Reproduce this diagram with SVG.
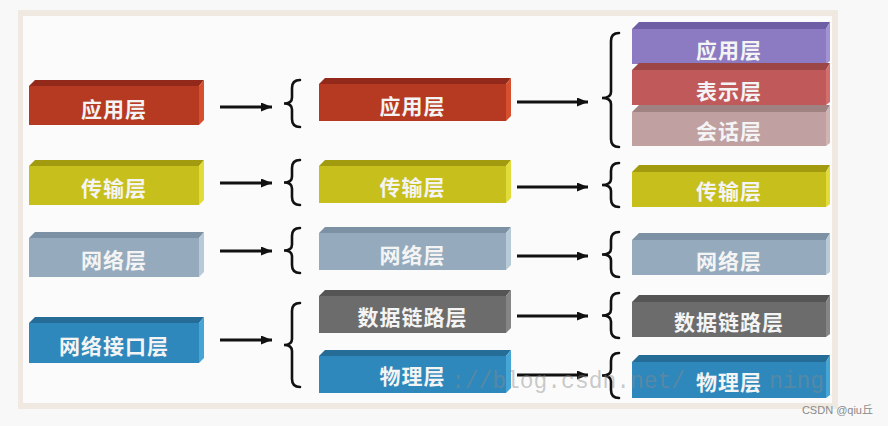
<svg xmlns="http://www.w3.org/2000/svg" width="888" height="426" viewBox="0 0 888 426">
<defs>
<style>
.lbl{font-family:"Noto Sans CJK SC","Noto Sans",sans-serif;font-weight:bold;font-size:21px;fill:#f4f4f4;text-anchor:middle;letter-spacing:1px}
.wm{font-family:"Liberation Mono",monospace;font-size:24px;fill:#8a8a8a;fill-opacity:0.45}
.arr{stroke:#111;stroke-width:3;fill:none}
.brace{stroke:#111;stroke-width:2.6;fill:none;stroke-linecap:round}
.red .fr{fill:#b63a22}.red .tp{fill:#92291a}.red .sd{fill:#d6502f}
.yel .fr{fill:#c6bf1c}.yel .tp{fill:#a29b10}.yel .sd{fill:#e2dc3a}
.net .fr{fill:#95abbd}.net .tp{fill:#7c91a3}.net .sd{fill:#b8cad8}
.blu .fr{fill:#2f88bb}.blu .tp{fill:#256d97}.blu .sd{fill:#45a6d6}
.gry .fr{fill:#6c6c6c}.gry .tp{fill:#555}.gry .sd{fill:#858585}
.pur .fr{fill:#8c7bc2}.pur .tp{fill:#6d5ea6}.pur .sd{fill:#a392d4}
.pre .fr{fill:#c05a5a}.pre .tp{fill:#9c4646}.pre .sd{fill:#d26e6e}
.ses .fr{fill:#c0a0a0}.ses .tp{fill:#a08282}.ses .sd{fill:#d0b4b4}
</style>
<marker id="ah" markerWidth="11" markerHeight="9" refX="11" refY="4.5" orient="auto" markerUnits="userSpaceOnUse">
<path d="M0,0 L11,4.5 L0,9 z" fill="#111"/>
</marker>
</defs>
<rect x="0" y="0" width="888" height="426" fill="#f8f8f8"/>
<rect x="18" y="10" width="820" height="399" fill="#efe9e1"/>
<rect x="23" y="16" width="809" height="387" fill="#fbfbfb"/>

<!-- left column -->
<g id="l-app" class="red">
<polygon class="tp" points="29,86 35,80 204,80 199,86"/>
<polygon class="sd" points="199,86 204,80 204,120 199,125"/>
<rect class="fr" x="29" y="86" width="170" height="39"/>
<text class="lbl" x="114" y="117">应用层</text>
</g>
<g id="l-trans" class="yel">
<polygon class="tp" points="29,166 35,160 204,160 199,166"/>
<polygon class="sd" points="199,166 204,160 204,200 199,205"/>
<rect class="fr" x="29" y="166" width="170" height="39"/>
<text class="lbl" x="114" y="196">传输层</text>
</g>
<g id="l-net" class="net">
<polygon class="tp" points="29,238 35,232 204,232 199,238"/>
<polygon class="sd" points="199,238 204,232 204,272 199,277"/>
<rect class="fr" x="29" y="238" width="170" height="39"/>
<text class="lbl" x="114" y="268">网络层</text>
</g>
<g id="l-if" class="blu">
<polygon class="tp" points="29,323 35,317 204,317 199,323"/>
<polygon class="sd" points="199,323 204,317 204,358 199,363"/>
<rect class="fr" x="29" y="323" width="170" height="40"/>
<text class="lbl" x="114" y="353.5">网络接口层</text>
</g>

<!-- middle column -->
<g id="m-app" class="red">
<polygon class="tp" points="319,84 325,78 511,78 506,84"/>
<polygon class="sd" points="506,84 511,78 511,116 506,121"/>
<rect class="fr" x="319" y="84" width="187" height="37"/>
<text class="lbl" x="412.5" y="113.5">应用层</text>
</g>
<g id="m-trans" class="yel">
<polygon class="tp" points="319,166 325,160 511,160 506,166"/>
<polygon class="sd" points="506,166 511,160 511,198 506,203"/>
<rect class="fr" x="319" y="166" width="187" height="37"/>
<text class="lbl" x="412.5" y="195">传输层</text>
</g>
<g id="m-net" class="net">
<polygon class="tp" points="319,233 325,227 511,227 506,233"/>
<polygon class="sd" points="506,233 511,227 511,265 506,270"/>
<rect class="fr" x="319" y="233" width="187" height="37"/>
<text class="lbl" x="412.5" y="263">网络层</text>
</g>
<g id="m-link" class="gry">
<polygon class="tp" points="319,296 325,290 511,290 506,296"/>
<polygon class="sd" points="506,296 511,290 511,328 506,333"/>
<rect class="fr" x="319" y="296" width="187" height="37"/>
<text class="lbl" x="412.5" y="324.5">数据链路层</text>
</g>
<g id="m-phy" class="blu">
<polygon class="tp" points="319,356 325,350 511,350 506,356"/>
<polygon class="sd" points="506,356 511,350 511,388 506,393"/>
<rect class="fr" x="319" y="356" width="187" height="37"/>
<text class="lbl" x="412.5" y="384">物理层</text>
</g>

<!-- right column -->
<g id="r-app" class="pur">
<polygon class="tp" points="632,29 639,22 830,22 826,29"/>
<polygon class="sd" points="826,29 830,22 830,61 826,64"/>
<rect class="fr" x="632" y="29" width="194" height="35"/>
<text class="lbl" x="729" y="57.5">应用层</text>
</g>
<g id="r-pres" class="pre">
<polygon class="tp" points="632,70 639,63 830,63 826,70"/>
<polygon class="sd" points="826,70 830,63 830,102 826,105"/>
<rect class="fr" x="632" y="70" width="194" height="35"/>
<text class="lbl" x="729" y="98.5">表示层</text>
</g>
<g id="r-sess" class="ses">
<polygon class="tp" points="632,112 639,105 830,105 826,112"/>
<polygon class="sd" points="826,112 830,105 830,143 826,146"/>
<rect class="fr" x="632" y="112" width="194" height="34"/>
<text class="lbl" x="729" y="138.5">会话层</text>
</g>
<g id="r-trans" class="yel">
<polygon class="tp" points="632,172 639,165 830,165 826,172"/>
<polygon class="sd" points="826,172 830,165 830,204 826,207"/>
<rect class="fr" x="632" y="172" width="194" height="35"/>
<text class="lbl" x="729" y="198.5">传输层</text>
</g>
<g id="r-net" class="net">
<polygon class="tp" points="632,240 639,233 830,233 826,240"/>
<polygon class="sd" points="826,240 830,233 830,272 826,275"/>
<rect class="fr" x="632" y="240" width="194" height="35"/>
<text class="lbl" x="729" y="268.5">网络层</text>
</g>
<g id="r-link" class="gry">
<polygon class="tp" points="632,302 639,295 830,295 826,302"/>
<polygon class="sd" points="826,302 830,295 830,334 826,337"/>
<rect class="fr" x="632" y="302" width="194" height="35"/>
<text class="lbl" x="729" y="329.5">数据链路层</text>
</g>
<g id="r-phy" class="blu">
<polygon class="tp" points="632,362 639,355 830,355 826,362"/>
<polygon class="sd" points="826,362 830,355 830,395 826,398"/>
<rect class="fr" x="632" y="362" width="194" height="36"/>
<text class="lbl" x="729" y="389.5">物理层</text>
</g>

<!-- connectors -->
<g id="connectors">
<line class="arr" x1="220" y1="107" x2="272" y2="107" marker-end="url(#ah)"/>
<line class="arr" x1="220" y1="183" x2="272" y2="183" marker-end="url(#ah)"/>
<line class="arr" x1="220" y1="251" x2="272" y2="251" marker-end="url(#ah)"/>
<line class="arr" x1="220" y1="340" x2="272" y2="340" marker-end="url(#ah)"/>
<line class="arr" x1="517" y1="102" x2="588" y2="102" marker-end="url(#ah)"/>
<line class="arr" x1="517" y1="187" x2="588" y2="187" marker-end="url(#ah)"/>
<line class="arr" x1="517" y1="256" x2="588" y2="256" marker-end="url(#ah)"/>
<line class="arr" x1="517" y1="316" x2="588" y2="316" marker-end="url(#ah)"/>
<line class="arr" x1="517" y1="375" x2="588" y2="375" marker-end="url(#ah)"/>
<path class="brace" d="M300,80 Q292,80 292,88 L292,97.5 Q292,103.5 284,103.5 Q292,103.5 292,109.5 L292,119 Q292,127 300,127"/>
<path class="brace" d="M300,160 Q292,160 292,168 L292,176.5 Q292,182.5 284,182.5 Q292,182.5 292,188.5 L292,197 Q292,205 300,205"/>
<path class="brace" d="M300,228 Q292,228 292,236 L292,244.5 Q292,250.5 284,250.5 Q292,250.5 292,256.5 L292,265 Q292,273 300,273"/>
<path class="brace" d="M300,303 Q292,303 292,311 L292,339 Q292,345 284,345 Q292,345 292,351 L292,379 Q292,387 300,387"/>
<path class="brace" d="M619,33 Q611,33 611,41 L611,92 Q611,98 602,98 Q611,98 611,104 L611,139 Q611,147 619,147"/>
<path class="brace" d="M619,163 Q611,163 611,171 L611,179 Q611,185 602,185 Q611,185 611,191 L611,199 Q611,207 619,207"/>
<path class="brace" d="M619,232 Q611,232 611,240 L611,248.5 Q611,254.5 602,254.5 Q611,254.5 611,260.5 L611,269 Q611,277 619,277"/>
<path class="brace" d="M619,293 Q611,293 611,301 L611,309.5 Q611,315.5 602,315.5 Q611,315.5 611,321.5 L611,330 Q611,338 619,338"/>
<path class="brace" d="M619,353 Q611,353 611,361 L611,369.5 Q611,375.5 602,375.5 Q611,375.5 611,381.5 L611,390 Q611,398 619,398"/>
</g>

<text class="wm" x="451" y="388" textLength="234" lengthAdjust="spacingAndGlyphs">://blog.csdn.net/</text>
<text class="wm" x="769" y="388" textLength="55" lengthAdjust="spacingAndGlyphs">ning</text>
<text x="873" y="414" font-family="Liberation Sans, Noto Sans CJK SC, sans-serif" font-size="11" fill="#8a8a8a" text-anchor="end">CSDN @qiu丘</text>
</svg>
